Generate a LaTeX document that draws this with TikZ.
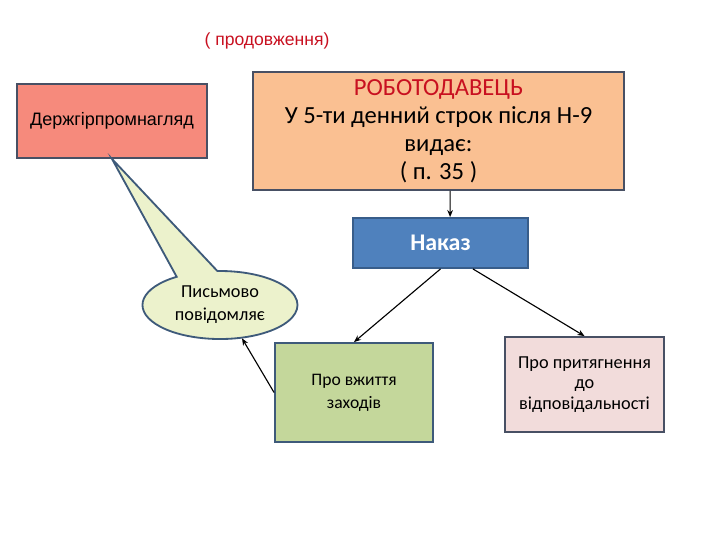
\documentclass[tikz,border=0pt]{standalone}
\usepackage{fontspec}
\setmainfont{Carlito}
\newfontfamily\arialfont{Liberation Sans}
\usetikzlibrary{shapes.geometric,shapes.callouts,arrows.meta}
\definecolor{ttlred}{RGB}{200, 16, 32}
\definecolor{salmonfill}{RGB}{246, 138, 124}
\definecolor{peachfill}{RGB}{250, 192, 146}
\definecolor{orderblue}{RGB}{79, 129, 189}
\definecolor{orderedge}{RGB}{56, 93, 138}
\definecolor{notefill}{RGB}{236, 242, 204}
\definecolor{noteedge}{RGB}{62, 90, 122}
\definecolor{measgreen}{RGB}{196, 215, 155}
\definecolor{respink}{RGB}{242, 220, 219}
\definecolor{boxedge}{RGB}{72, 80, 100}

\begin{document}
\begin{tikzpicture}[x=0.025cm, y=-0.025cm,
    box/.style={draw=boxedge, line width=1.3pt, align=center, inner sep=2pt},
    link/.style={-{Stealth[length=5pt,width=4pt]}, thick}]
                \useasboundingbox (0,0) rectangle (720,540);
                \node[text=ttlred, font=\arialfont\fontsize{12.5}{14}\selectfont] (title) at (267,41) {( продовження)};
                \node[box, fill=salmonfill, minimum width=4.75cm, minimum height=1.85cm, font=\arialfont\fontsize{12.8}{15}\selectfont] (derzh) at (112,121) {Держгірпромнагляд};
                \node[box, fill=peachfill, minimum width=9.275cm, minimum height=2.95cm, font=\fontsize{17.5}{20}\selectfont] (rob) at (438.5,131) {\textcolor{ttlred}{РОБОТОДАВЕЦЬ}\\У 5-ти денний строк після Н-9\\видає:\\( п. 35 )};
                \node[box, draw=orderedge, fill=orderblue, text=white, minimum width=4.375cm, minimum height=1.25cm, font=\bfseries\fontsize{17}{19}\selectfont] (nakaz) at (440.5,243) {Наказ};
                \node[ellipse callout, draw=noteedge, line width=1.3pt, fill=notefill, minimum width=3.875cm, minimum height=1.7cm, inner sep=0pt, callout absolute pointer={(derzh.south)}, callout pointer arc=32, align=center, font=\fontsize{13}{16.4}\selectfont] (letter) at (220,305) {Письмово\\повідомляє};
                \node[box, draw=noteedge, fill=measgreen, minimum width=3.95cm, minimum height=2.475cm, font=\fontsize{12.5}{16.4}\selectfont] (measures) at (354,392.5) {Про вжиття\\заходів};
                \node[box, fill=respink, minimum width=3.975cm, minimum height=2.375cm, font=\fontsize{13}{14.6}\selectfont] (liab) at (584.5,384.5) {Про притягнення\\до\\відповідальності};
                \draw[link] ([xshift=0.29cm]rob.south) -- ([xshift=0.24cm]nakaz.north);
                \draw[link] (nakaz.south) -- (measures.north);
                \draw[link] ([xshift=0.81cm]nakaz.south) -- (liab.north);
                \draw[link] (measures.west) -- ([xshift=0.55cm,yshift=0.04cm]letter.south);
            \end{tikzpicture}
\end{document}
